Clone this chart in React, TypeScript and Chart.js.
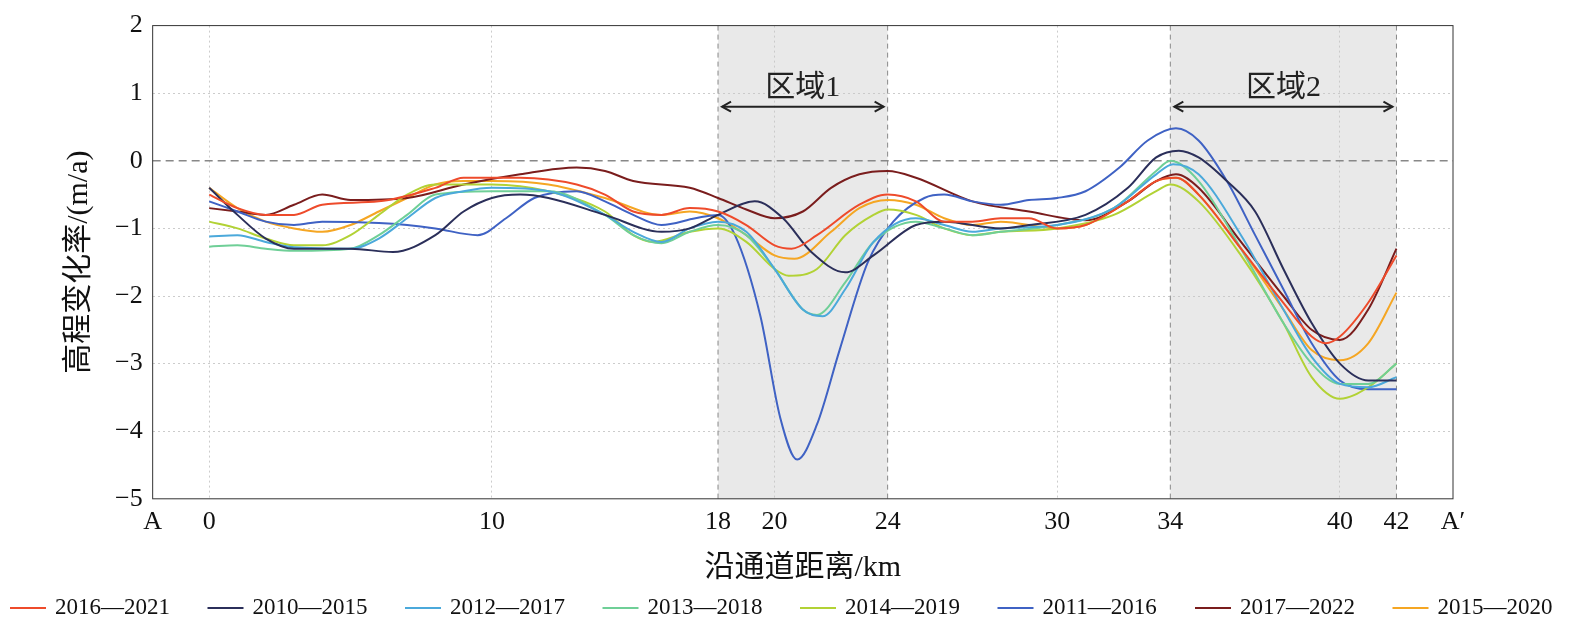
import React, { useEffect, useRef } from "react";
import { Chart, registerables } from "chart.js";
Chart.register(...registerables);

const xTicks = [-2, 0, 10, 18, 20, 24, 30, 34, 40, 42, 44];
const yTicks = [2, 1, 0, -1, -2, -3, -4, -5];
const regions = [[18, 24, "区域1"], [34, 42, "区域2"]] as const;

const labels = ["2016—2021", "2010—2015", "2012—2017", "2013—2018", "2014—2019", "2011—2016", "2017—2022", "2015—2020"];
const colors = ["#EE4B2B", "#2B2F5A", "#4BA9DB", "#6FCF97", "#B2D235", "#3F62C4", "#7A1D1D", "#F5A623"];

const s2016: [number, number][] = [[0,-0.5],[1,-0.7],[2,-0.8],[3,-0.8],[4,-0.65],[6,-0.6],[8,-0.4],[9,-0.25],[11,-0.25],[13,-0.35],[14,-0.5],[15,-0.75],[16,-0.8],[17,-0.7],[18,-0.75],[19,-0.95],[20,-1.25],[20.6,-1.3],[21.5,-1.1],[23,-0.65],[24,-0.5],[25,-0.6],[26,-0.9],[27,-0.9],[28,-0.85],[29,-0.85],[30,-1.0],[31,-0.95],[32.5,-0.6],[33.5,-0.3],[34.2,-0.25],[35,-0.5],[36.5,-1.3],[38,-2.1],[39,-2.6],[39.5,-2.7],[40,-2.6],[41,-2.1],[42,-1.4]];
const s2010: [number, number][] = [[0,-0.4],[1,-0.8],[2,-1.15],[3,-1.3],[5,-1.3],[6.5,-1.35],[8,-1.1],[9,-0.75],[10,-0.55],[11,-0.5],[12,-0.55],[14,-0.8],[16,-1.05],[17,-1.0],[18,-0.8],[19.3,-0.6],[20.3,-0.85],[21.3,-1.35],[22.5,-1.65],[23.5,-1.4],[25,-0.95],[26,-0.9],[28,-1.0],[29,-0.95],[31,-0.8],[32.5,-0.4],[33.5,0.05],[34.3,0.15],[35,0.05],[36,-0.3],[37,-0.75],[38,-1.6],[39,-2.4],[40,-3.0],[41,-3.25],[42,-3.25]];
const s2012: [number, number][] = [[0,-1.12],[1,-1.1],[2,-1.2],[3,-1.28],[5,-1.3],[6,-1.15],[7,-0.85],[8,-0.55],[9,-0.45],[10,-0.4],[12,-0.45],[14,-0.8],[15,-1.05],[16,-1.2],[17,-1.0],[18,-0.9],[19,-1.05],[20,-1.6],[21,-2.2],[21.7,-2.3],[22.5,-1.9],[23.5,-1.2],[25,-0.85],[26,-0.95],[27,-1.05],[28,-1.0],[30,-0.95],[32,-0.7],[33.5,-0.2],[34.1,-0.05],[35,-0.2],[36.5,-1.1],[38,-2.2],[39,-2.9],[40,-3.3],[41,-3.35],[42,-3.2]];
const s2013: [number, number][] = [[0,-1.27],[1,-1.25],[2,-1.3],[3,-1.33],[5,-1.3],[6,-1.1],[7,-0.8],[8,-0.5],[10,-0.45],[12,-0.45],[14,-0.8],[15,-1.1],[16,-1.22],[17,-1.05],[18,-0.95],[19,-1.1],[20,-1.6],[21,-2.2],[21.5,-2.28],[22.5,-1.8],[23.5,-1.2],[25,-0.9],[26,-1.0],[27,-1.1],[28,-1.05],[30,-0.95],[32,-0.7],[33.5,-0.15],[34,0.0],[35,-0.3],[36.5,-1.3],[38,-2.4],[39,-3.0],[40,-3.3],[41,-3.3],[42,-3.0]];
const s2014: [number, number][] = [[0,-0.9],[1,-1.0],[2,-1.15],[3,-1.25],[4,-1.25],[5,-1.1],[6,-0.8],[7,-0.5],[8,-0.35],[10,-0.35],[12,-0.45],[14,-0.75],[15,-1.1],[15.7,-1.2],[17,-1.05],[18,-1.0],[19,-1.2],[20,-1.6],[20.5,-1.7],[21.5,-1.6],[22.5,-1.1],[23.5,-0.8],[24,-0.72],[25,-0.8],[26,-1.0],[27,-1.1],[28,-1.05],[30,-1.0],[32,-0.8],[33.5,-0.45],[34,-0.35],[35,-0.6],[36.5,-1.4],[38,-2.4],[39,-3.2],[40,-3.52],[41,-3.35],[42,-3.0]];
const s2011: [number, number][] = [[0,-0.6],[1,-0.75],[2,-0.9],[3,-0.95],[4,-0.9],[6,-0.92],[7,-0.95],[8,-1.0],[9.5,-1.1],[10.5,-0.85],[11.5,-0.55],[13,-0.45],[14,-0.6],[15,-0.8],[16,-0.95],[17.2,-0.85],[18,-0.8],[18.6,-1.1],[19.5,-2.3],[20.2,-3.8],[20.8,-4.42],[21.5,-3.9],[22.3,-2.8],[23.3,-1.5],[24.2,-0.9],[25.3,-0.55],[26,-0.5],[27,-0.6],[28,-0.65],[29,-0.58],[30,-0.55],[31,-0.45],[32.2,-0.1],[33.2,0.3],[34.2,0.48],[35,0.3],[36,-0.3],[37,-1.1],[38,-1.9],[39,-2.7],[40,-3.25],[41,-3.38],[42,-3.38]];
const s2017: [number, number][] = [[0,-0.7],[1,-0.75],[2,-0.8],[3,-0.65],[4,-0.5],[5,-0.58],[7,-0.55],[9,-0.35],[11,-0.2],[13,-0.1],[14,-0.15],[15,-0.3],[17,-0.4],[18,-0.55],[19,-0.72],[20,-0.85],[21,-0.75],[22,-0.4],[23,-0.2],[24,-0.15],[25,-0.25],[27,-0.6],[29,-0.75],[31,-0.88],[32.5,-0.6],[33.5,-0.3],[34.2,-0.2],[35,-0.4],[36.5,-1.2],[38,-2.0],[39,-2.5],[40,-2.65],[41,-2.2],[42,-1.3]];
const s2015: [number, number][] = [[0,-0.4],[1,-0.7],[2,-0.9],[3,-1.0],[4,-1.05],[5,-0.95],[6,-0.75],[7,-0.55],[8,-0.35],[9,-0.3],[10,-0.3],[12,-0.35],[14,-0.55],[16,-0.8],[17,-0.75],[18,-0.85],[19,-1.1],[20,-1.4],[20.7,-1.45],[22,-1.05],[23,-0.7],[24,-0.58],[25,-0.65],[26,-0.85],[27,-0.95],[28,-0.9],[30,-1.0],[31,-0.95],[32.5,-0.6],[33.5,-0.3],[34.2,-0.25],[35,-0.5],[36.5,-1.3],[38,-2.2],[39,-2.8],[40,-2.95],[41,-2.7],[42,-1.95]];
const series = [s2016, s2010, s2012, s2013, s2014, s2011, s2017, s2015];

const FONT = "'Liberation Serif', 'Noto Sans CJK SC', serif";

const deco = {
  id: "deco",
  beforeDatasetsDraw(chart: any) {
    const { ctx, chartArea: a, scales: { x, y } } = chart;
    ctx.save();
    ctx.fillStyle = "rgba(200,200,200,0.4)";
    for (const [s, e] of regions) ctx.fillRect(x.getPixelForValue(s), a.top, x.getPixelForValue(e) - x.getPixelForValue(s), a.bottom - a.top);
    ctx.strokeStyle = "#888";
    ctx.lineWidth = 1;
    ctx.setLineDash([5, 4]);
    for (const v of [18, 24, 34, 42]) {
      const px = x.getPixelForValue(v);
      ctx.beginPath(); ctx.moveTo(px, a.top); ctx.lineTo(px, a.bottom); ctx.stroke();
    }
    ctx.lineWidth = 1.5;
    ctx.setLineDash([8, 5]);
    const py0 = y.getPixelForValue(0);
    ctx.beginPath(); ctx.moveTo(a.left, py0); ctx.lineTo(a.right, py0); ctx.stroke();
    ctx.restore();
  },
  afterDatasetsDraw(chart: any) {
    const { ctx, chartArea: a, scales: { x, y } } = chart;
    ctx.save();
    ctx.strokeStyle = "#222"; ctx.fillStyle = "#222"; ctx.lineWidth = 2;
    for (const [s, e, t] of regions) {
      const x1 = x.getPixelForValue(s) + 4, x2 = x.getPixelForValue(e) - 4, py = y.getPixelForValue(0.8);
      ctx.beginPath(); ctx.moveTo(x1, py); ctx.lineTo(x2, py); ctx.stroke();
      ctx.beginPath(); ctx.moveTo(x1 + 9, py - 5); ctx.lineTo(x1, py); ctx.lineTo(x1 + 9, py + 5); ctx.stroke();
      ctx.beginPath(); ctx.moveTo(x2 - 9, py - 5); ctx.lineTo(x2, py); ctx.lineTo(x2 - 9, py + 5); ctx.stroke();
      ctx.font = "30px " + FONT; ctx.textAlign = "center"; ctx.textBaseline = "bottom";
      ctx.fillText(t, (x1 + x2) / 2, py - 4);
    }
    ctx.strokeStyle = "#333"; ctx.lineWidth = 1; ctx.setLineDash([]);
    ctx.strokeRect(a.left, a.top, a.right - a.left, a.bottom - a.top);
    // legend
    ctx.font = "23px " + FONT; ctx.textAlign = "left"; ctx.textBaseline = "middle"; ctx.lineWidth = 2;
    labels.forEach((l, i) => {
      const lx = 10 + i * 197.5, ly = 608;
      ctx.strokeStyle = colors[i];
      ctx.beginPath(); ctx.moveTo(lx, ly); ctx.lineTo(lx + 36, ly); ctx.stroke();
      ctx.fillStyle = "#111";
      ctx.fillText(l, lx + 45, ly);
    });
    ctx.restore();
  },
};

export default function App() {
  const ref = useRef<HTMLCanvasElement>(null);
  useEffect(() => {
    document.body.style.margin = "0";
    const chart = new Chart(ref.current!, {
      type: "line",
      data: {
        datasets: series.map((d, i) => ({
          label: labels[i],
          data: d.map(([x, y]) => ({ x, y })),
          borderColor: colors[i],
          backgroundColor: colors[i],
          borderWidth: 2,
          pointRadius: 0,
          cubicInterpolationMode: "monotone" as const,
        })),
      },
      options: {
        animation: false,
        responsive: false,
        layout: { padding: { left: 57, right: 129, top: 11, bottom: 44 } },
        plugins: { tooltip: { enabled: false }, legend: { display: false } },
        scales: {
          x: {
            type: "linear", min: -2, max: 44,
            afterBuildTicks: (s: any) => { s.ticks = xTicks.map((v) => ({ value: v })); },
            ticks: { autoSkip: false, maxRotation: 0, color: "#111", font: { family: FONT, size: 26 }, padding: 8,
              callback: (v: any) => (v === -2 ? "A" : v === 44 ? "A′" : String(v)) },
            grid: { drawTicks: false, color: (c: any) => ([0, 10, 20, 30, 40].includes(c.tick?.value) ? "#ccc" : "rgba(0,0,0,0)") },
            border: { display: false, dash: [2, 3] },
            title: { display: true, text: "沿通道距离/km", color: "#111", font: { family: FONT, size: 30 }, padding: { top: 4, bottom: 0 } },
          },
          y: {
            min: -5, max: 2,
            afterBuildTicks: (s: any) => { s.ticks = yTicks.map((v) => ({ value: v })); },
            ticks: { color: "#111", font: { family: FONT, size: 26 }, padding: 10,
              callback: (v: any) => (v < 0 ? "−" + Math.abs(v) : String(v)) },
            grid: { drawTicks: false, color: (c: any) => (c.tick?.value === 0 || c.tick?.value === 2 || c.tick?.value === -5 ? "rgba(0,0,0,0)" : "#ccc") },
            border: { display: false, dash: [2, 3] },
            title: { display: true, text: "高程变化率/(m/a)", color: "#111", font: { family: FONT, size: 30 }, padding: { bottom: 8 } },
          },
        },
      },
      plugins: [deco],
    });
    return () => chart.destroy();
  }, []);
  return <canvas ref={ref} width={1582} height={630} style={{ display: "block" }} />;
}
